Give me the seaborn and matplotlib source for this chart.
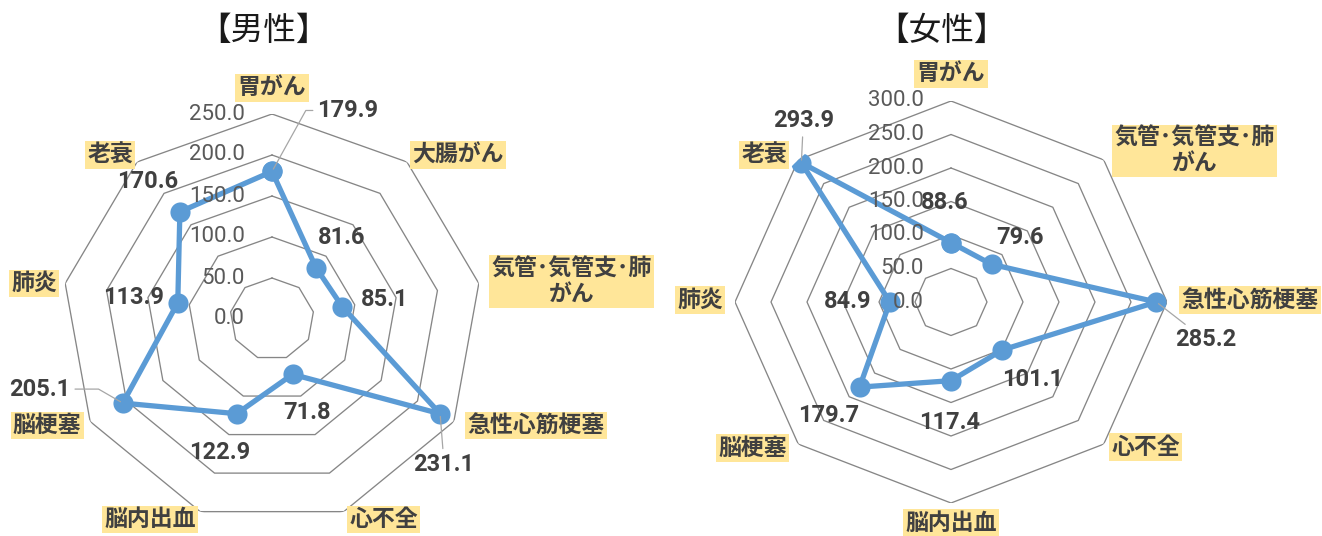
import numpy as np
import pandas as pd
import matplotlib
matplotlib.use("Agg")
import matplotlib.pyplot as plt
from matplotlib import font_manager
import seaborn as sns

sns.set_theme(style="white")
plt.rcParams["font.family"] = ["Noto Sans CJK JP", "DejaVu Sans"]

# ---- data ----
male_categories = ["胃がん", "大腸がん", "気管･気管支･肺\nがん", "急性心筋梗塞", "心不全",
                   "脳内出血", "脳梗塞", "肺炎", "老衰"]
male_values = [179.9, 81.6, 85.1, 231.1, 71.8, 122.9, 205.1, 113.9, 170.6]
male_ticks = [0, 50, 100, 150, 200, 250]

female_categories = ["胃がん", "気管･気管支･肺\nがん", "急性心筋梗塞", "心不全",
                     "脳内出血", "脳梗塞", "肺炎", "老衰"]
female_values = [88.6, 79.6, 285.2, 101.1, 117.4, 179.7, 84.9, 293.9]
female_ticks = [0, 50, 100, 150, 200, 250, 300]

# ---- label placement (pixel offsets from the vertex / point) ----
male_cat_offsets = [(0, 26), (51, 7), (93, 2), (82, -4), (40, -8), (-50, -8), (-43, -4), (-31, 0), (-27, 7)]
male_val_offsets = [(76, 61), (26, 30), (42, 7), (4, -51), (14, -38), (-17, -39), (-83, 14), (-44, 5), (-32, 30)]
male_leaders = {0: "angle,angleA=0,angleB=61,rad=0", 3: "arc3,rad=0", 6: "angle,angleA=0,angleB=150,rad=0"}

female_cat_offsets = [(0, 27), (91, 9), (83, 2), (42, -3), (0, -20), (-46, -4), (-35, 2), (-34, 5)]
female_val_offsets = [(-6, 40), (28, 27), (49, -38), (30, -30), (-1, -42), (-31, -28), (-42, 0), (2, 42)]
female_leaders = {2: "arc3,rad=0", 7: "arc3,rad=0"}

W, H = 1322, 536
BLUE = "#5B9BD5"
GRID = "#868686"
TXT = "#404040"
TICK = "#595959"
LABEL_BG = "#FFE699"

names = {f.name for f in font_manager.fontManager.ttflist}
NUM_FONT = "Liberation Sans Narrow" if "Liberation Sans Narrow" in names else "Roboto"

fig = plt.figure(figsize=(W / 100, H / 100), dpi=100)
fig.patch.set_facecolor("white")


def radar(rect, categories, values, ticks, cat_offsets, val_offsets, leaders):
    ax = fig.add_axes(rect, projection="polar")
    ax.set_theta_zero_location("N")
    ax.set_theta_direction(-1)
    ax.set_aspect("auto")
    ax.grid(False)
    ax.spines["polar"].set_visible(False)
    ax.patch.set_alpha(0)
    ax.set_xticks([])
    ax.set_yticks([])

    n = len(categories)
    theta = np.linspace(0, 2 * np.pi, n, endpoint=False)
    theta_closed = np.append(theta, 2 * np.pi)

    # polygonal gridlines
    for t in ticks[1:]:
        ax.plot(theta_closed, [t] * (n + 1), color=GRID, lw=0.95, zorder=1)
    ax.set_ylim(0, ticks[-1])

    df = pd.DataFrame({"theta": theta_closed, "value": values + values[:1]})
    sns.lineplot(data=df, x="theta", y="value", ax=ax, sort=False, color=BLUE,
                 linewidth=3.8, marker="o", markersize=14.5, markeredgewidth=0,
                 zorder=3, legend=False)
    ax.set_xlabel("")
    ax.set_ylabel("")
    ax.set_ylim(0, ticks[-1])

    # axis value labels along the top axis
    for t in ticks:
        ax.annotate(f"{t:.1f}", xy=(0, t), xytext=(-27, 0), textcoords="offset pixels",
                    ha="right", va="center", color=TICK, fontsize=16,
                    family=[NUM_FONT, "DejaVu Sans"], zorder=6)

    # category labels
    for th, name, (dx, dy) in zip(theta, categories, cat_offsets):
        ax.annotate(name, xy=(th, ticks[-1]), xytext=(dx, dy), textcoords="offset pixels",
                    ha="center", va="center", multialignment="center",
                    fontsize=16.5, fontweight="bold", color=TXT, linespacing=1.1,
                    bbox=dict(boxstyle="square,pad=0.1", fc=LABEL_BG, ec="none"),
                    annotation_clip=False, zorder=4)

    # data labels
    for i, (th, v, (dx, dy)) in enumerate(zip(theta, values, val_offsets)):
        kw = {}
        if i in leaders:
            kw["arrowprops"] = dict(arrowstyle="-", color="#A6A6A6", lw=0.9,
                                    connectionstyle=leaders[i], shrinkA=1, shrinkB=2)
        ax.annotate(f"{v:.1f}", xy=(th, v), xytext=(dx, dy), textcoords="offset pixels",
                    ha="center", va="center", fontsize=17, fontweight="bold",
                    color=TXT, family=[NUM_FONT, "DejaVu Sans"],
                    annotation_clip=False, zorder=5, **kw)
    return ax


# left: centre (272, 319), radii 210 x 205 px
radar([62 / W, (H - 524) / H, 420 / W, 410 / H],
      male_categories, male_values, male_ticks,
      male_cat_offsets, male_val_offsets, male_leaders)
# right: centre (951, 302), radii 216 x 201 px
radar([735 / W, (H - 503) / H, 432 / W, 402 / H],
      female_categories, female_values, female_ticks,
      female_cat_offsets, female_val_offsets, female_leaders)

fig.text(264 / W, 1 - 31 / H, "【男性】", ha="center", va="center", fontsize=23.5, color="#1A1A1A")
fig.text(941 / W, 1 - 31 / H, "【女性】", ha="center", va="center", fontsize=23.5, color="#1A1A1A")

fig.savefig("out.png", dpi=100, facecolor="white")
